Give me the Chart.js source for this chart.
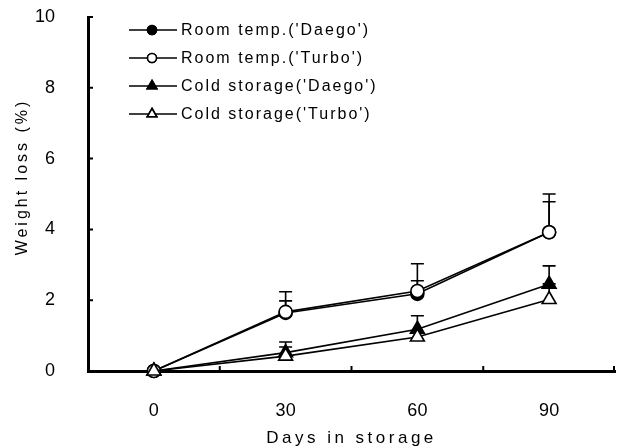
<!DOCTYPE html>
<html>
<head>
<meta charset="utf-8">
<script src="https://cdn.jsdelivr.net/npm/chart.js@4.4.1/dist/chart.umd.min.js"></script>
<style>
  html, body { margin: 0; padding: 0; background: #fff; }
  #wrap { width: 617px; height: 448px; }
</style>
</head>
<body>
<div id="wrap"><canvas id="chart" width="617" height="448"></canvas></div>
<script>
// days in storage
const days = ['0', '30', '60', '90'];
const yTicks = [0, 2, 4, 6, 8, 10];

// weight loss (%)
const roomDaego = [0, 1.64, 2.18, 3.92];
const roomTurbo = [0, 1.67, 2.26, 3.92];
const coldDaego = [0, 0.52, 1.18, 2.45];
const coldTurbo = [0, 0.42, 0.96, 2.02];

// upper end of error bars
const roomDaegoErr = [0, 1.98, 2.55, 4.78];
const roomTurboErr = [0, 2.24, 3.03, 5.0];
const coldDaegoErr = [0, 0.82, 1.56, 2.97];
const coldTurboErr = [0, 0.68, 1.1, 2.46];

const seriesNames = ["Room temp.('Daego')", "Room temp.('Turbo')", "Cold storage('Daego')", "Cold storage('Turbo')"];

const FONT = '"Liberation Sans", Arial, sans-serif';

function makeSet(label, data, err, style, filled, order) {
  return {
    label: label,
    data: data,
    errTop: err,
    borderColor: '#000',
    borderWidth: 1.6,
    pointStyle: style,
    pointRadius: style === 'triangle' ? 8 : 6.5,
    pointBackgroundColor: filled ? '#000' : '#fff',
    pointBorderColor: '#000',
    pointBorderWidth: 1.6,
    tension: 0,
    fill: false,
    clip: false,
    order: order,
  };
}

const extras = {
  id: 'extras',
  beforeDatasetsDraw(chart) {
    const ctx = chart.ctx;
    const x = chart.scales.x, y = chart.scales.y;
    ctx.save();
    ctx.strokeStyle = '#000';
    ctx.lineWidth = 1.6;
    chart.data.datasets.forEach((ds) => {
      ds.errTop.forEach((top, i) => {
        if (top <= ds.data[i]) return;
        const px = x.getPixelForValue(i);
        const py = y.getPixelForValue(ds.data[i]);
        const pt = y.getPixelForValue(top);
        ctx.beginPath();
        ctx.moveTo(px, py);
        ctx.lineTo(px, pt);
        ctx.moveTo(px - 6.5, pt);
        ctx.lineTo(px + 6.5, pt);
        ctx.stroke();
      });
    });
    ctx.restore();
  },
  afterDraw(chart) {
    const ctx = chart.ctx;
    const x = chart.scales.x, y = chart.scales.y;
    const area = chart.chartArea;
    ctx.save();
    ctx.strokeStyle = '#000';
    ctx.lineWidth = 2;
    // inward ticks
    ctx.beginPath();
    for (let i = 0; i < days.length; i++) {
      const bx = i < days.length - 1
        ? (x.getPixelForValue(i) + x.getPixelForValue(i + 1)) / 2
        : area.right - 1;
      ctx.moveTo(bx, area.bottom);
      ctx.lineTo(bx, area.bottom - 5);
    }
    yTicks.forEach((v) => {
      const ty = y.getPixelForValue(v);
      ctx.moveTo(area.left, ty);
      ctx.lineTo(area.left + 5, ty);
    });
    ctx.stroke();

    // legend
    ctx.font = '16px ' + FONT;
    ctx.letterSpacing = '2px';
    ctx.fillStyle = '#000';
    ctx.textBaseline = 'middle';
    const rows = [30, 58, 86, 114];
    chart.data.datasets.forEach((ds, i) => {
      const ry = rows[i];
      ctx.lineWidth = 1.6;
      ctx.beginPath();
      ctx.moveTo(129, ry);
      ctx.lineTo(177, ry);
      ctx.stroke();
      ctx.fillStyle = ds.pointBackgroundColor;
      Chart.helpers.drawPoint(ctx, {
        pointStyle: ds.pointStyle,
        radius: ds.pointStyle === 'triangle' ? 5.5 : 4.5,
        borderWidth: 1.6,
        rotation: 0,
      }, 152, ry);
      ctx.fill();
      ctx.stroke();
      ctx.fillStyle = '#000';
      ctx.textAlign = 'left';
      ctx.fillText(ds.label, 181, ry + 1);
    });

    // axis titles
    ctx.font = '17px ' + FONT;
    ctx.letterSpacing = '3.5px';
    ctx.textAlign = 'center';
    ctx.fillText('Days in storage', (area.left + area.right) / 2, 438);
    ctx.font = '16px ' + FONT;
    ctx.letterSpacing = '3px';
    ctx.translate(23, 177);
    ctx.rotate(-Math.PI / 2);
    ctx.fillText('Weight loss (%)', 0, 0);
    ctx.restore();
  }
};

new Chart(document.getElementById('chart'), {
  type: 'line',
  data: {
    labels: days,
    datasets: [
      makeSet(seriesNames[0], roomDaego, roomDaegoErr, 'circle', true, 3),
      makeSet(seriesNames[1], roomTurbo, roomTurboErr, 'circle', false, 1),
      makeSet(seriesNames[2], coldDaego, coldDaegoErr, 'triangle', true, 2),
      makeSet(seriesNames[3], coldTurbo, coldTurboErr, 'triangle', false, 0),
    ],
  },
  options: {
    responsive: false,
    animation: false,
    layout: { autoPadding: false, padding: { top: 17, right: 2, left: 0, bottom: 0 } },
    plugins: {
      legend: { display: false },
      tooltip: { enabled: false },
    },
    scales: {
      x: {
        type: 'category',
        offset: true,
        grid: { display: false, offset: true },
        border: { display: true, color: '#000', width: 3 },
        ticks: { color: '#000', font: { family: FONT, size: 18 }, padding: 21 },
        afterFit(s) { s.height = 77; s.paddingLeft = 0; s.paddingRight = 0; },
      },
      y: {
        min: 0,
        max: 10,
        grid: { display: false },
        border: { display: true, color: '#000', width: 3 },
        ticks: { stepSize: 2, color: '#000', font: { family: FONT, size: 18 }, padding: 25 },
        afterFit(s) { s.width = 88; s.paddingTop = 0; s.paddingBottom = 0; },
      },
    },
  },
  plugins: [extras],
});
</script>
</body>
</html>
